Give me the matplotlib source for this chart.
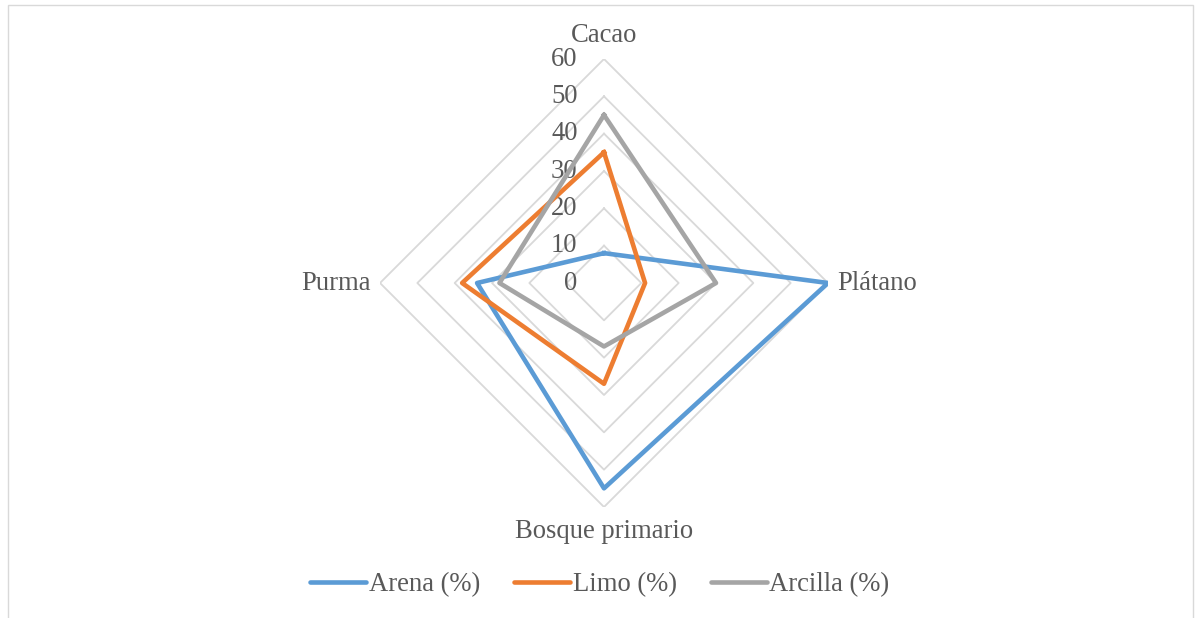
import numpy as np
import matplotlib
matplotlib.use("Agg")
import matplotlib.pyplot as plt
from matplotlib.patches import Rectangle
from matplotlib.lines import Line2D

categories = ["Cacao", "Plátano", "Bosque primario", "Purma"]
arena = [8, 60, 55, 34]
limo = [35, 11, 27, 38]
arcilla = [45, 30, 17, 28]
series_names = ["Arena (%)", "Limo (%)", "Arcilla (%)"]
levels = [0, 10, 20, 30, 40, 50, 60]

colors = ["#5B9BD5", "#ED7D31", "#A5A5A5"]
text_color = "#595959"
grid_color = "#D9D9D9"
plt.rcParams["font.family"] = ["Liberation Serif", "DejaVu Serif"]
FS = 19.2

fig = plt.figure(figsize=(12, 6.18), dpi=100)
R = 224
cx, cy = 604, 283
W, H = 1200, 618
ax = fig.add_axes([(cx - R) / W, (H - cy - R) / H, 2 * R / W, 2 * R / H], projection="polar")
ax.set_theta_offset(np.pi / 2)
ax.set_theta_direction(-1)
ax.set_ylim(0, 60)
ax.grid(False)
ax.spines["polar"].set_visible(False)
ax.set_xticks([])
ax.set_yticks([])
ax.patch.set_alpha(0)

n = len(categories)
angles = np.arange(n) * 2 * np.pi / n
ang_closed = np.concatenate([angles, angles[:1]])

# grid diamonds
for lv in levels[1:]:
    ax.plot(ang_closed, [lv] * (n + 1), color=grid_color, lw=1.3, zorder=1)

for vals, col, name in zip([arena, limo, arcilla], colors, series_names):
    v = list(vals) + [vals[0]]
    ax.plot(ang_closed, v, color=col, lw=3.3, solid_joinstyle="round", zorder=3, label=name)

# radial tick labels
for lv in levels:
    ax.annotate(str(lv), xy=(0, lv), xytext=(-19, 0), textcoords="offset points",
                ha="right", va="center", fontsize=FS, color=text_color, zorder=2)

# category labels
ax.annotate(categories[0], xy=(angles[0], 60), xytext=(0, 17), textcoords="offset points",
            ha="center", va="center", fontsize=FS, color=text_color)
ax.annotate(categories[1], xy=(angles[1], 60), xytext=(7, 0), textcoords="offset points",
            ha="left", va="center", fontsize=FS, color=text_color)
ax.annotate(categories[2], xy=(angles[2], 60), xytext=(0, -18), textcoords="offset points",
            ha="center", va="center", fontsize=FS, color=text_color)
ax.annotate(categories[3], xy=(angles[3], 60), xytext=(-7, 0), textcoords="offset points",
            ha="right", va="center", fontsize=FS, color=text_color)

handles = [Line2D([0], [0], color=c, lw=3.3, solid_capstyle="round") for c in colors]
leg = fig.legend(handles, series_names, loc="center", bbox_to_anchor=(0.5, 1 - 585 / H),
                 ncol=3, frameon=False, fontsize=FS, handlelength=2.1, handletextpad=0.08,
                 columnspacing=1.3, labelcolor=text_color)

fig.patches.append(Rectangle((8 / W, -0.02), 1185 / W, 1 - 5 / H + 0.02, transform=fig.transFigure,
                             fill=False, edgecolor=grid_color, lw=1.0))

fig.savefig("out.png", dpi=100)
